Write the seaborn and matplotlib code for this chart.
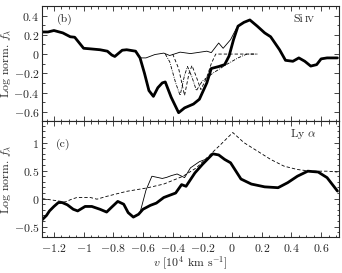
import matplotlib
matplotlib.use("Agg")
import matplotlib.pyplot as plt
import seaborn as sns
from matplotlib.ticker import MultipleLocator, FuncFormatter

# ---- panel (b): Si IV ----
si_obs_v = [-1.28, -1.24, -1.20, -1.14, -1.09, -1.06, -1.00, -0.96, -0.89, -0.84, -0.81, -0.79,
            -0.74, -0.71, -0.65, -0.62, -0.59, -0.56, -0.53, -0.50, -0.47, -0.45, -0.41, -0.36,
            -0.32, -0.26, -0.22, -0.17, -0.14, -0.09, -0.05, -0.02, 0.01, 0.04, 0.08, 0.12,
            0.17, 0.22, 0.26, 0.32, 0.36, 0.41, 0.45, 0.49, 0.53, 0.57, 0.60, 0.64, 0.71]
si_obs_f = [0.23, 0.23, 0.245, 0.22, 0.18, 0.175, 0.06, 0.055, 0.045, 0.03, -0.01, -0.025,
            0.04, 0.045, 0.03, -0.04, -0.20, -0.38, -0.44, -0.35, -0.30, -0.29, -0.45, -0.61,
            -0.56, -0.52, -0.47, -0.30, -0.15, -0.13, -0.11, -0.02, 0.15, 0.29, 0.33, 0.355,
            0.29, 0.22, 0.18, 0.045, -0.065, -0.075, -0.04, -0.075, -0.125, -0.11, -0.05, -0.04, -0.04]

si_thin_v = [-0.62, -0.58, -0.52, -0.46, -0.42, -0.35, -0.28, -0.17, -0.14, -0.09, -0.06, -0.01, 0.03]
si_thin_f = [-0.04, -0.04, -0.005, 0.01, -0.015, 0.02, 0.005, 0.03, 0.015, 0.115, 0.06, 0.15, 0.27]

si_dash_v = [-0.40, -0.36, -0.32, -0.29, -0.27, -0.24, -0.21, -0.17, -0.14, -0.11, 0.17]
si_dash_f = [0.0, -0.15, -0.43, -0.20, -0.12, -0.24, -0.37, -0.24, -0.10, 0.0, 0.0]

si_dd_v = [-0.45, -0.42, -0.38, -0.35, -0.32, -0.30, -0.27, -0.24, -0.20, -0.13, -0.05, 0.04, 0.10, 0.17]
si_dd_f = [0.0, -0.08, -0.30, -0.43, -0.22, -0.13, -0.24, -0.38, -0.28, -0.20, -0.12, -0.04, 0.0, 0.0]

# ---- panel (c): Ly alpha ----
ly_obs_v = [-1.28, -1.25, -1.23, -1.20, -1.17, -1.145, -1.11, -1.07, -1.04, -0.99, -0.945, -0.89,
            -0.845, -0.81, -0.77, -0.73, -0.70, -0.665, -0.63, -0.60, -0.55, -0.51, -0.46, -0.41,
            -0.38, -0.34, -0.31, -0.25, -0.20, -0.13, -0.09, -0.05, -0.01, 0.06, 0.13, 0.22,
            0.31, 0.375, 0.44, 0.51, 0.58, 0.64, 0.71]
ly_obs_f = [-0.38, -0.30, -0.22, -0.14, -0.07, -0.07, -0.11, -0.19, -0.22, -0.14, -0.14, -0.19,
            -0.24, -0.15, -0.05, -0.10, -0.25, -0.33, -0.28, -0.19, -0.12, -0.08, 0.02, 0.07,
            0.10, 0.25, 0.22, 0.46, 0.61, 0.80, 0.78, 0.70, 0.64, 0.35, 0.26, 0.21,
            0.195, 0.285, 0.40, 0.49, 0.475, 0.375, 0.135]

ly_thin_v = [-0.62, -0.58, -0.54, -0.505, -0.47, -0.44, -0.41, -0.37, -0.32, -0.28, -0.22, -0.19, -0.16]
ly_thin_f = [-0.25, 0.15, 0.40, 0.38, 0.36, 0.38, 0.41, 0.44, 0.375, 0.55, 0.66, 0.69, 0.72]

ly_dash_v = [-1.28, -1.20, -1.125, -1.08, -1.045, -0.955, -0.91, -0.845, -0.71, -0.575, -0.46, -0.33,
             -0.24, -0.15, -0.075, 0.005, 0.08, 0.17, 0.26, 0.35, 0.44, 0.53, 0.64, 0.71]
ly_dash_f = [0.0, -0.03, -0.06, -0.01, 0.02, 0.02, -0.01, 0.04, 0.13, 0.19, 0.26, 0.40,
             0.55, 0.78, 0.97, 1.18, 1.0, 0.85, 0.70, 0.58, 0.52, 0.49, 0.49, 0.475]

sns.set_style("ticks")
plt.rcParams["font.family"] = "serif"
plt.rcParams["font.serif"] = ["cmr10"]
plt.rcParams["mathtext.fontset"] = "cm"
plt.rcParams["axes.formatter.use_mathtext"] = True
plt.rcParams["font.size"] = 8

fig, (ax1, ax2) = plt.subplots(2, 1, figsize=(3.42, 2.73), dpi=100, sharex=True)
fig.subplots_adjust(left=0.123, right=0.991, top=0.978, bottom=0.133, hspace=0)

thick = dict(color="black", linewidth=2.0, estimator=None, sort=False)
thin = dict(color="black", linewidth=0.6, estimator=None, sort=False)

sns.lineplot(x=si_thin_v, y=si_thin_f, ax=ax1, **thin)
sns.lineplot(x=si_dash_v, y=si_dash_f, ax=ax1, linestyle=(0, (4, 2.5)), **thin)
sns.lineplot(x=si_dd_v, y=si_dd_f, ax=ax1, linestyle=(0, (4, 1.5, 1, 1.5)), **thin)
sns.lineplot(x=si_obs_v, y=si_obs_f, ax=ax1, **thick)

sns.lineplot(x=ly_dash_v, y=ly_dash_f, ax=ax2, linestyle=(0, (4, 2.5)), **thin)
sns.lineplot(x=ly_thin_v, y=ly_thin_f, ax=ax2, **thin)
sns.lineplot(x=ly_obs_v, y=ly_obs_f, ax=ax2, **thick)

ax1.set_xlim(-1.28, 0.72)
ax1.set_ylim(-0.7, 0.5)
ax2.set_ylim(-0.68, 1.38)

ax1.yaxis.set_major_locator(MultipleLocator(0.2))
ax1.yaxis.set_minor_locator(MultipleLocator(0.1))
ax2.yaxis.set_major_locator(MultipleLocator(0.5))
ax2.yaxis.set_minor_locator(MultipleLocator(0.1))
ax2.xaxis.set_major_locator(MultipleLocator(0.2))
ax2.xaxis.set_minor_locator(MultipleLocator(0.05))

fmt = FuncFormatter(lambda v, p: "$%g$" % (round(v, 3) + 0.0))

for ax in (ax1, ax2):
    for s in ax.spines.values():
        s.set_linewidth(0.8)
    ax.tick_params(which="both", direction="in", top=True, right=True, width=0.6, labelsize=8.5)
    ax.tick_params(which="major", length=3.5)
    ax.tick_params(which="minor", length=1.8)
    ax.tick_params(axis="y", pad=2)
    ax.xaxis.set_major_formatter(fmt)
    ax.yaxis.set_major_formatter(fmt)
    ax.set_ylabel(r"Log norm. $f_\lambda$", fontsize=8.5)
    ax.yaxis.set_label_coords(-0.098, 0.5)

ax1.tick_params(labelbottom=False)
ax2.set_xlabel(r"$v$ [10$^4$ km s$^{-1}$]", fontsize=8.5, labelpad=1)

ax1.text(0.075, 0.86, "(b)", transform=ax1.transAxes, ha="center", va="baseline", fontsize=8.5)
ax1.text(0.862, 0.86, "Si", transform=ax1.transAxes, ha="center", va="baseline", fontsize=8.5)
ax1.text(0.902, 0.86, "IV", transform=ax1.transAxes, ha="center", va="baseline", fontsize=6.5)
ax2.text(0.072, 0.78, "(c)", transform=ax2.transAxes, ha="center", va="baseline", fontsize=8.5)
ax2.text(0.88, 0.86, r"Ly $\alpha$", transform=ax2.transAxes, ha="center", va="baseline", fontsize=8.5)

ax1.figure.savefig("out.png", dpi=100)
plt.close(fig)
